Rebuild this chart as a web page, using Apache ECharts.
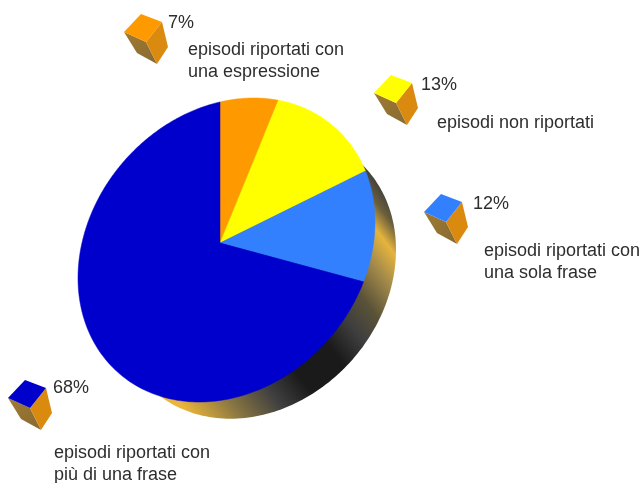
<!DOCTYPE html>
<html><head><meta charset="utf-8">
<style>html,body{margin:0;padding:0;background:#fff}#c{width:640px;height:483px}</style>
<script src="https://cdn.jsdelivr.net/npm/echarts@6/dist/echarts.min.js"></script>
</head><body><div id="c"></div>
<script>
const categories = ['episodi riportati con\nuna espressione','episodi non riportati','episodi riportati con\nuna sola frase','episodi riportati con\npiù di una frase'];
const values = [7,13,12,68];
const colors = ['#FF9900','#FFFF00','#3380FF','#0000CC'];

// layout of the tilted disc
const apex=[220,243], ctr=[226.5,250], W=148.5, H=152, rho=0.184;
const backCtr=[256,276], backW=140, backH=142.7;
const rt=Math.sqrt(1-rho*rho);
const ell=(t,c,w,h)=>[c[0]+w*Math.cos(t), c[1]-h*(rho*Math.cos(t)+rt*Math.sin(t))];
function toUnit(x,y){const u=(x-ctr[0])/W;const v=(-(y-ctr[1])/H-rho*u)/rt;return [u,v];}
function rim(share){ // share 0..1 clockwise from top
  const s=share*2*Math.PI, th=s-0.17*Math.sin(s)+0.028*Math.sin(2*s);
  const dx=Math.sin(th),dy=-Math.cos(th);
  const a=toUnit(apex[0],apex[1]), b=toUnit(apex[0]+dx,apex[1]+dy);
  const d=[b[0]-a[0],b[1]-a[1]];
  const A=d[0]*d[0]+d[1]*d[1],B=a[0]*d[0]+a[1]*d[1],C=a[0]*a[0]+a[1]*a[1]-1;
  const k=(-B+Math.sqrt(B*B-A*C))/A;
  return [apex[0]+dx*k,apex[1]+dy*k];
}
// side-wall shading: offset along the wall, colour
const wallStops=[[0,[58,58,58]],[.05,[107,95,60]],[.1,[229,180,62]],[.17,[163,138,74]],[.26,[90,82,56]],[.34,[62,62,62]],[.43,[26,26,26]],[.56,[26,26,26]],[.66,[64,64,64]],[.77,[133,115,66]],[.9,[234,181,58]],[1,[234,181,58]]];
const toCss=c=>'rgb('+c.join(',')+')';
// legend layout
const cubeOffset=[[0,0],[250,61],[300,180],[-116,366]];
const pctPos=[[168,23],[421,85],[473,204],[53,388]];
const namePos=[[188,61],[437,123],[484,262],[54,464]];
const faceTop=[[141,14],[162,22],[146,42],[124,32]], faceRight=[[162,22],[168,47],[157,64],[146,42]], faceLeft=[[124,32],[146,42],[157,64],[137,53]];
const shift=(ps,o)=>ps.map(p=>[p[0]+o[0],p[1]+o[1]]);
const font='"Liberation Sans",Arial,sans-serif', ink='#2e2e2e';

const total=values.reduce((a,b)=>a+b,0);
const cum=values.reduce((acc,v)=>{acc.push(acc[acc.length-1]+v/total);return acc;},[0]);

const option={
  backgroundColor:'#fff',animation:false,
  series:[
    {type:'custom',coordinateSystem:'none',silent:true,data:[1],
     renderItem(){
       const pts=[];for(let i=0;i<240;i++)pts.push(ell(i/240*2*Math.PI,backCtr,backW,backH));
       return {type:'polygon',shape:{points:pts},style:{fill:new echarts.graphic.LinearGradient(412,223,153,422,wallStops.map(s=>({offset:s[0],color:toCss(s[1])})),true)}};
     }},
    {type:'custom',coordinateSystem:'none',silent:true,data:values.map((v,i)=>[v,i]),
     renderItem(params,api){
       const i=api.value(1), pts=[apex], n=Math.max(4,Math.round(api.value(0)*4));
       for(let k=0;k<=n;k++)pts.push(rim(cum[i]+(api.value(0)/total)*k/n));
       return {type:'polygon',shape:{points:pts},style:{fill:colors[i],stroke:colors[i],lineWidth:.5}};
     }},
    {type:'custom',coordinateSystem:'none',silent:true,data:values.map((v,i)=>[v,i]),
     renderItem(params,api){
       const i=api.value(1), o=cubeOffset[i];
       return {type:'group',children:[
         {type:'polygon',shape:{points:shift(faceLeft,o)},style:{fill:new echarts.graphic.LinearGradient(0,0,1,1,[{offset:0,color:'#a07a30'},{offset:1,color:'#866a34'}])}},
         {type:'polygon',shape:{points:shift(faceRight,o)},style:{fill:'#DB8A10'}},
         {type:'polygon',shape:{points:shift(faceTop,o)},style:{fill:colors[i]}},
         {type:'text',style:{x:pctPos[i][0],y:pctPos[i][1],text:api.value(0)+'%',font:'18px '+font,fill:ink,verticalAlign:'middle'}},
         {type:'text',style:{x:namePos[i][0],y:namePos[i][1],text:categories[i],font:'18px '+font,lineHeight:22,fill:ink,verticalAlign:'middle'}}
       ]};
     }}
  ]
};
echarts.init(document.getElementById('c'),null,{renderer:'canvas'}).setOption(option);
</script></body></html>
